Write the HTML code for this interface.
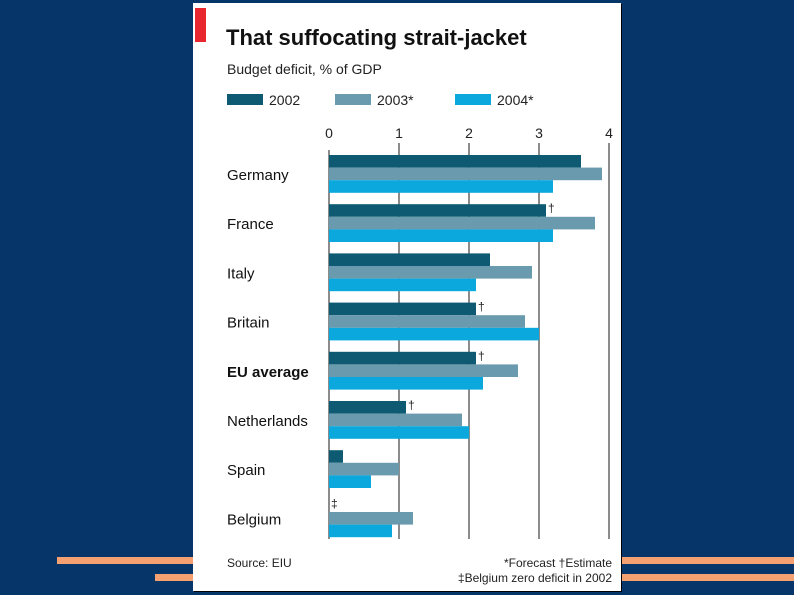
<!DOCTYPE html>
<html><head><meta charset="utf-8"><style>
body{margin:0;width:794px;height:595px;background:#06356a;position:relative;overflow:hidden;font-family:"Liberation Sans",sans-serif}
.o{position:absolute;background:#f4a070}
#panel{position:absolute;left:193px;top:3px;width:428px;height:588px;background:#fff;box-shadow:1px 1px 0 #000}
</style></head><body>
<div class="o" style="left:57px;top:557px;width:737px;height:7px"></div>
<div class="o" style="left:155px;top:574px;width:639px;height:7px"></div>
<div id="panel"></div>
<svg id="chart" width="794" height="595" style="position:absolute;left:0;top:0">
<rect x="195" y="8" width="11" height="34" fill="#e8262d"/>
<text x="226" y="45" font-size="22" font-weight="bold" fill="#111">That suffocating strait-jacket</text>
<text x="227" y="74" font-size="14" fill="#222">Budget deficit, % of GDP</text>
<g id="legend"></g><g id="grid"></g><g id="bars"></g><g id="labels"></g>
<text x="227" y="567" font-size="12" fill="#222">Source: EIU</text>
<text x="612" y="567" font-size="12" fill="#222" text-anchor="end">*Forecast  †Estimate</text>
<text x="612" y="582" font-size="12" fill="#222" text-anchor="end">‡Belgium zero deficit in 2002</text>
</svg>
<script>
const categories=["Germany","France","Italy","Britain","EU average","Netherlands","Spain","Belgium"];
const series2002=[3.6,3.1,2.3,2.1,2.1,1.1,0.2,0];
const series2003=[3.9,3.8,2.9,2.8,2.7,1.9,1.0,1.2];
const series2004=[3.2,3.2,2.1,3.0,2.2,2.0,0.6,0.9];
const marks=["","†","","†","†","†","","‡"];
const ticks=[0,1,2,3,4];
const seriesNames=["2002","2003*","2004*"];
const colors=["#0d5a72","#6a9aad","#0aa8dc"];
const NS="http://www.w3.org/2000/svg";
const x=v=>329+v*70;
const gy=i=>155+i*49.2;
function mk(t,a,p){const e=document.createElementNS(NS,t);for(const k in a)e.setAttribute(k,a[k]);document.getElementById(p).appendChild(e);return e;}
const lx=[227,335,455];
seriesNames.forEach((n,i)=>{
 const r=mk("rect",{x:lx[i],y:94,width:36,height:11,fill:colors[i]},"legend");
 
 
 const t=mk("text",{x:lx[i]+42,y:105,"font-size":14,fill:"#222"},"legend");t.textContent=n;
 
 
});
ticks.forEach(v=>{
 const l=mk("line",{x1:x(v),x2:x(v),y1:v==0?150:143,y2:539,stroke:"#666","stroke-width":1.5},"grid");
 
 
 const t=mk("text",{x:x(v),y:138,"font-size":14,fill:"#222","text-anchor":"middle"},"grid");t.textContent=v;
 
 
});
[series2002,series2003,series2004].forEach((s,j)=>{
 s.forEach((v,i)=>{
  const r=mk("rect",{x:x(0),y:gy(i)+j*12.6,width:x(v)-x(0),height:12.6,fill:colors[j]},"bars");
  
  
 });
});
categories.forEach((c,i)=>{
 const t=mk("text",{x:227,y:gy(i)+25,"font-size":15,fill:"#111","font-weight":c=="EU average"?"bold":"normal"},"labels");t.textContent=c;
 
 
 if(marks[i]){const m=mk("text",{x:x(series2002[i])+2,y:gy(i)+8,"font-size":12,fill:"#222"},"labels");m.textContent=marks[i];
 
 }
});
</script>
</body></html>
